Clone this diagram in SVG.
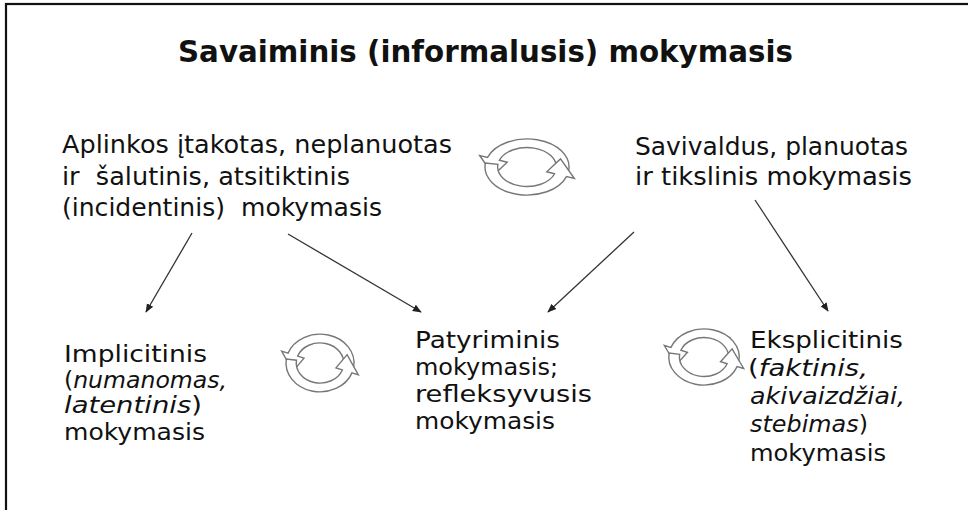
<svg xmlns="http://www.w3.org/2000/svg" width="968" height="510" viewBox="0 0 968 510">
  <style>
    .t { font-family: "DejaVu Sans", "Liberation Sans", sans-serif; fill: #111; }
    .title { font-size: 31px; font-weight: bold; }
    .up { font-size: 24px; }
    .lo { font-size: 22.5px; }
    .it { font-style: italic; }
    .conn line { stroke: #333; stroke-width: 1.3; fill: none; }
  </style>
  <defs>
    <marker id="ah" viewBox="0 0 10 10" refX="9" refY="5" markerWidth="9" markerHeight="9" markerUnits="userSpaceOnUse" orient="auto">
      <path d="M0,1 L10,5 L0,9 Z" fill="#222"/>
    </marker>
    <g id="cycle">
      <path fill="#fff" stroke="#777" stroke-width="1.4" vector-effect="non-scaling-stroke" d="M 39.6 5.6 A 40 40 0 0 0 -37.6 -13.7 L -45.1 -16.4 L -31.9 11.6 L -18.8 -6.8 L -26.3 -9.6 A 28 28 0 0 1 27.7 3.9 Z"/>
      <path fill="#fff" stroke="#777" stroke-width="1.4" vector-effect="non-scaling-stroke" d="M -39.6 -5.6 A 40 40 0 0 0 37.6 13.7 L 45.1 16.4 L 31.9 -11.6 L 18.8 6.8 L 26.3 9.6 A 28 28 0 0 1 -27.7 -3.9 Z"/>
    </g>
  </defs>
  <rect x="0" y="0" width="968" height="510" fill="#fff"/>
  <rect x="6" y="4" width="1000" height="1000" fill="none" stroke="#111" stroke-width="2.2"/>

  <g id="title">
    <text class="t title" x="178" y="62" textLength="615" lengthAdjust="spacingAndGlyphs">Savaiminis (informalusis) mokymasis</text>
  </g>

  <g id="node-aplinkos">
    <text class="t up" xml:space="preserve" x="62" y="153" textLength="390" lengthAdjust="spacingAndGlyphs">Aplinkos įtakotas, neplanuotas</text>
    <text class="t up" xml:space="preserve" x="62" y="185" textLength="288" lengthAdjust="spacingAndGlyphs">ir  šalutinis, atsitiktinis</text>
    <text class="t up" xml:space="preserve" x="62" y="216" textLength="320" lengthAdjust="spacingAndGlyphs">(incidentinis)  mokymasis</text>
  </g>

  <g id="node-savivaldus">
    <text class="t up" x="635" y="155" textLength="273" lengthAdjust="spacingAndGlyphs">Savivaldus, planuotas</text>
    <text class="t up" x="635" y="185" textLength="277" lengthAdjust="spacingAndGlyphs">ir tikslinis mokymasis</text>
  </g>

  <g id="node-implicitinis">
    <text class="t lo" x="64" y="362" textLength="143" lengthAdjust="spacingAndGlyphs">Implicitinis</text>
    <text class="t lo" x="64" y="388" textLength="163" lengthAdjust="spacingAndGlyphs">(<tspan class="it">numanomas,</tspan></text>
    <text class="t lo" x="64" y="413" textLength="138" lengthAdjust="spacingAndGlyphs"><tspan class="it">latentinis</tspan>)</text>
    <text class="t lo" x="64" y="440" textLength="141" lengthAdjust="spacingAndGlyphs">mokymasis</text>
  </g>

  <g id="node-patyriminis">
    <text class="t lo" x="415" y="348" textLength="145" lengthAdjust="spacingAndGlyphs">Patyriminis</text>
    <text class="t lo" x="415" y="375" textLength="143" lengthAdjust="spacingAndGlyphs">mokymasis;</text>
    <text class="t lo" x="415" y="402" textLength="177" lengthAdjust="spacingAndGlyphs">refleksyvusis</text>
    <text class="t lo" x="415" y="429" textLength="140" lengthAdjust="spacingAndGlyphs">mokymasis</text>
  </g>

  <g id="node-eksplicitinis">
    <text class="t lo" x="750" y="348" textLength="153" lengthAdjust="spacingAndGlyphs">Eksplicitinis</text>
    <text class="t lo" x="748" y="376" textLength="120" lengthAdjust="spacingAndGlyphs">(<tspan class="it">faktinis,</tspan></text>
    <text class="t lo" x="750" y="404" textLength="155" lengthAdjust="spacingAndGlyphs"><tspan class="it">akivaizdžiai,</tspan></text>
    <text class="t lo" x="750" y="432" textLength="118" lengthAdjust="spacingAndGlyphs"><tspan class="it">stebimas</tspan>)</text>
    <text class="t lo" x="750" y="461" textLength="136" lengthAdjust="spacingAndGlyphs">mokymasis</text>
  </g>

  <g id="cycle-top">
    <use href="#cycle" transform="translate(527,167) scale(1.05,0.7)"/>
  </g>
  <g id="cycle-mid">
    <use href="#cycle" transform="translate(320,363) scale(0.85,0.72)"/>
  </g>
  <g id="cycle-right">
    <use href="#cycle" transform="translate(704,357) scale(0.88,0.7)"/>
  </g>

  <g id="connectors" class="conn">
    <line x1="192" y1="233" x2="146" y2="312" marker-end="url(#ah)"/>
    <line x1="288" y1="234" x2="421" y2="312" marker-end="url(#ah)"/>
    <line x1="634" y1="232" x2="548" y2="312" marker-end="url(#ah)"/>
    <line x1="755" y1="200" x2="828" y2="311" marker-end="url(#ah)"/>
  </g>
</svg>
